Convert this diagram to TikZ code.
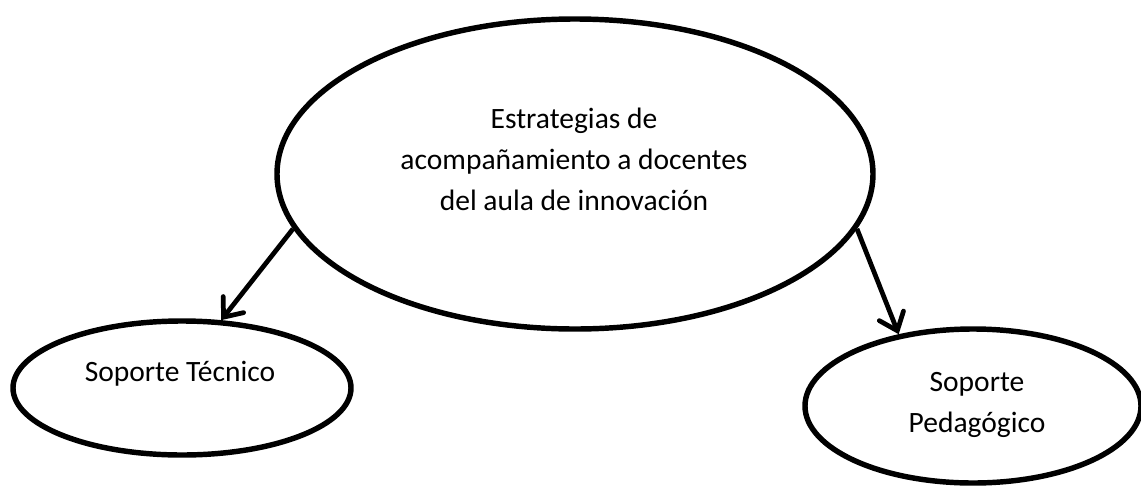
\documentclass[tikz,border=0pt]{standalone}
\usepackage{fontspec}
\setmainfont{Carlito}
\usetikzlibrary{shapes.geometric,arrows.meta}

\tikzset{
  oval/.style={draw, ellipse, line width=3.1pt, inner sep=0pt},
  ovaltext/.style={align=center, font=\fontsize{16.8}{23.4}\selectfont},
  link/.style={line width=2.7pt, -{Straight Barb[length=0.32cm, width=0.52cm, line cap=round]}}
}

\begin{document}
\begin{tikzpicture}
  \useasboundingbox (0cm,0cm) rectangle (22.82cm,-9.72cm);
  % big ellipse on top
  \node[oval, minimum width=11.92cm, minimum height=6.2cm] (strat) at (11.5cm,-3.48cm) {};
  \node[ovaltext] (strat-txt) at (11.48cm,-3.18cm) {Estrategias de\\acompañamiento a docentes\\del aula de innovación};
  % the two below
  \node[oval, minimum width=6.76cm, minimum height=2.68cm] (tecnico) at (3.64cm,-7.76cm) {};
  \node[ovaltext] (tecnico-txt) at (3.6cm,-7.48cm) {Soporte Técnico};
  \node[oval, minimum width=6.72cm, minimum height=3.08cm] (pedagogico) at (19.46cm,-8.12cm) {};
  \node[ovaltext] (pedagogico-txt) at (19.54cm,-8.1cm) {Soporte\\Pedagógico};
  % arrows
  \draw[link] (strat.191) -- (tecnico.60);
  \draw[link] (strat.-11) -- (pedagogico.136);
\end{tikzpicture}
\end{document}
